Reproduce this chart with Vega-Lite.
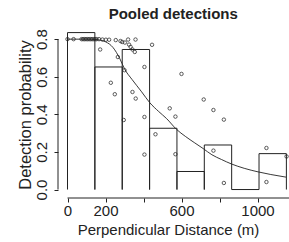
{
  "$schema": "https://vega.github.io/schema/vega-lite/v6.json",
  "autosize": "none",
  "width": 237.5,
  "height": 172,
  "padding": {"left": 58, "top": 26, "right": 0, "bottom": 44},
  "background": "white",
  "config": {
    "view": {"stroke": null},
    "font": "Liberation Sans",
    "axis": {"grid": false, "domain": false, "tickColor": "#222", "labelColor": "#222", "titleColor": "#222", "labelFont": "Liberation Sans", "titleFont": "Liberation Sans", "labelFontSize": 15, "titleFontSize": 15, "titleFontWeight": "normal", "tickSize": 4, "tickWidth": 1}
  },
  "title": {"text": "Pooled detections", "font": "Liberation Sans", "fontSize": 15, "fontWeight": "bold", "color": "#222", "anchor": "middle", "frame": "group", "baseline": "alphabetic", "offset": 6.5, "dx": -3.5, "dy": 14.5},
  "datasets": {
    "bins": [
      {"x": 0, "x2": 144, "y": 0.835},
      {"x": 144, "x2": 288, "y": 0.652},
      {"x": 288, "x2": 432, "y": 0.745},
      {"x": 432, "x2": 576, "y": 0.326},
      {"x": 576, "x2": 720, "y": 0.096},
      {"x": 720, "x2": 864, "y": 0.237},
      {"x": 864, "x2": 1008, "y": 0},
      {"x": 1008, "x2": 1152, "y": 0.191}
    ],
    "curve": [
      {"x": 0, "y": 0.8}, {"x": 100, "y": 0.8}, {"x": 150, "y": 0.798}, {"x": 200, "y": 0.786},
      {"x": 240, "y": 0.755}, {"x": 275, "y": 0.697}, {"x": 300, "y": 0.642}, {"x": 340, "y": 0.585},
      {"x": 390, "y": 0.52}, {"x": 433, "y": 0.462}, {"x": 480, "y": 0.415}, {"x": 521, "y": 0.378},
      {"x": 574, "y": 0.32}, {"x": 620, "y": 0.283}, {"x": 670, "y": 0.248}, {"x": 714, "y": 0.218},
      {"x": 760, "y": 0.185}, {"x": 810, "y": 0.16}, {"x": 863, "y": 0.136}, {"x": 930, "y": 0.113},
      {"x": 1003, "y": 0.094}, {"x": 1070, "y": 0.08}, {"x": 1150, "y": 0.066}
    ],
    "points": [
      {"x": 0, "y": 0.8}, {"x": 32, "y": 0.8}, {"x": 74, "y": 0.8}, {"x": 82, "y": 0.8}, {"x": 90, "y": 0.8},
      {"x": 98, "y": 0.8}, {"x": 106, "y": 0.8}, {"x": 114, "y": 0.8}, {"x": 122, "y": 0.8}, {"x": 130, "y": 0.8},
      {"x": 138, "y": 0.8}, {"x": 146, "y": 0.8}, {"x": 153, "y": 0.8}, {"x": 166, "y": 0.8}, {"x": 184, "y": 0.798},
      {"x": 202, "y": 0.797}, {"x": 219, "y": 0.797}, {"x": 172, "y": 0.745}, {"x": 254, "y": 0.795},
      {"x": 279, "y": 0.79}, {"x": 288, "y": 0.785}, {"x": 302, "y": 0.782}, {"x": 319, "y": 0.798},
      {"x": 324, "y": 0.771}, {"x": 332, "y": 0.759}, {"x": 342, "y": 0.745}, {"x": 354, "y": 0.732},
      {"x": 358, "y": 0.798}, {"x": 445, "y": 0.77}, {"x": 265, "y": 0.705}, {"x": 405, "y": 0.652},
      {"x": 300, "y": 0.635}, {"x": 600, "y": 0.615}, {"x": 228, "y": 0.568}, {"x": 249, "y": 0.507},
      {"x": 342, "y": 0.519}, {"x": 359, "y": 0.484}, {"x": 717, "y": 0.479}, {"x": 768, "y": 0.423},
      {"x": 538, "y": 0.432}, {"x": 568, "y": 0.388}, {"x": 405, "y": 0.386}, {"x": 823, "y": 0.372},
      {"x": 296, "y": 0.37}, {"x": 463, "y": 0.294}, {"x": 405, "y": 0.186}, {"x": 568, "y": 0.188},
      {"x": 768, "y": 0.207}, {"x": 1047, "y": 0.221}, {"x": 1153, "y": 0.176}, {"x": 823, "y": 0.035},
      {"x": 1047, "y": 0.04}
    ]
  },
  "layer": [
    {
      "data": {"name": "points"},
      "mark": {"type": "point", "shape": "circle", "filled": false, "size": 12, "stroke": "#333", "strokeWidth": 0.8, "opacity": 1, "clip": false},
      "encoding": {
        "x": {"field": "x", "type": "quantitative", "scale": {"domain": [-50, 1200], "nice": false, "zero": false},
          "axis": {"title": "Perpendicular Distance (m)", "values": [0, 200, 400, 600, 800, 1000, 1200], "format": "d", "labelExpr": "datum.value == 400 || datum.value == 800 || datum.value == 1200 ? '' : datum.label", "labelBaseline": "alphabetic", "labelPadding": 13.5, "labelFlush": false, "labelOverlap": false, "titleX": 110, "titleY": 36.5, "titleBaseline": "alphabetic", "titleAlign": "center"}},
        "y": {"field": "y", "type": "quantitative", "scale": {"domain": [-0.045, 0.87], "nice": false, "zero": false},
          "axis": {"title": "Detection probability", "values": [0, 0.2, 0.4, 0.6, 0.8], "format": ".1f", "labelAngle": -90, "labelAlign": "center", "labelBaseline": "alphabetic", "labelPadding": 7.3, "labelFlush": false, "labelOverlap": false, "titleAngle": -90, "titleFontSize": 16.5, "titleX": -28, "titleY": 88.5, "titleBaseline": "alphabetic", "titleAlign": "center"}}
      }
    },
    {
      "data": {"name": "bins"},
      "mark": {"type": "rule", "color": "#222", "strokeWidth": 1},
      "encoding": {
        "x": {"field": "x", "type": "quantitative",
          "axis": {"title": "Perpendicular Distance (m)", "values": [0, 200, 400, 600, 800, 1000, 1200], "format": "d", "labelExpr": "datum.value == 400 || datum.value == 800 || datum.value == 1200 ? '' : datum.label", "labelBaseline": "alphabetic", "labelPadding": 13.5, "labelFlush": false, "labelOverlap": false, "titleX": 110, "titleY": 36.5, "titleBaseline": "alphabetic", "titleAlign": "center"}},
        "x2": {"field": "x2"},
        "y": {"field": "y", "type": "quantitative"}
      }
    },
    {
      "data": {"name": "bins"},
      "mark": {"type": "rule", "color": "#222", "strokeWidth": 1},
      "encoding": {
        "x": {"field": "x", "type": "quantitative",
          "axis": {"title": "Perpendicular Distance (m)", "values": [0, 200, 400, 600, 800, 1000, 1200], "format": "d", "labelExpr": "datum.value == 400 || datum.value == 800 || datum.value == 1200 ? '' : datum.label", "labelBaseline": "alphabetic", "labelPadding": 13.5, "labelFlush": false, "labelOverlap": false, "titleX": 110, "titleY": 36.5, "titleBaseline": "alphabetic", "titleAlign": "center"}},
        "y": {"field": "y", "type": "quantitative"},
        "y2": {"datum": 0}
      }
    },
    {
      "data": {"name": "bins"},
      "mark": {"type": "rule", "color": "#222", "strokeWidth": 1},
      "encoding": {
        "x": {"field": "x2", "type": "quantitative",
          "axis": {"title": "Perpendicular Distance (m)", "values": [0, 200, 400, 600, 800, 1000, 1200], "format": "d", "labelExpr": "datum.value == 400 || datum.value == 800 || datum.value == 1200 ? '' : datum.label", "labelBaseline": "alphabetic", "labelPadding": 13.5, "labelFlush": false, "labelOverlap": false, "titleX": 110, "titleY": 36.5, "titleBaseline": "alphabetic", "titleAlign": "center"}},
        "y": {"field": "y", "type": "quantitative"},
        "y2": {"datum": 0}
      }
    },
    {
      "data": {"name": "curve"},
      "mark": {"type": "line", "color": "#222", "strokeWidth": 0.9, "interpolate": "monotone"},
      "encoding": {
        "x": {"field": "x", "type": "quantitative",
          "axis": {"title": "Perpendicular Distance (m)", "values": [0, 200, 400, 600, 800, 1000, 1200], "format": "d", "labelExpr": "datum.value == 400 || datum.value == 800 || datum.value == 1200 ? '' : datum.label", "labelBaseline": "alphabetic", "labelPadding": 13.5, "labelFlush": false, "labelOverlap": false, "titleX": 110, "titleY": 36.5, "titleBaseline": "alphabetic", "titleAlign": "center"}},
        "y": {"field": "y", "type": "quantitative"}
      }
    },
    {
      "data": {"values": [{}]},
      "mark": {"type": "rule", "color": "#222", "strokeWidth": 1, "clip": false},
      "encoding": {
        "x": {"datum": -50, "type": "quantitative",
          "axis": {"title": "Perpendicular Distance (m)", "values": [0, 200, 400, 600, 800, 1000, 1200], "format": "d", "labelExpr": "datum.value == 400 || datum.value == 800 || datum.value == 1200 ? '' : datum.label", "labelBaseline": "alphabetic", "labelPadding": 13.5, "labelFlush": false, "labelOverlap": false, "titleX": 110, "titleY": 36.5, "titleBaseline": "alphabetic", "titleAlign": "center"}},
        "y": {"datum": 0, "type": "quantitative"},
        "y2": {"datum": 0.8}
      }
    },
    {
      "data": {"values": [{}]},
      "mark": {"type": "rule", "color": "#222", "strokeWidth": 1, "clip": false},
      "encoding": {
        "x": {"datum": 0, "type": "quantitative",
          "axis": {"title": "Perpendicular Distance (m)", "values": [0, 200, 400, 600, 800, 1000, 1200], "format": "d", "labelExpr": "datum.value == 400 || datum.value == 800 || datum.value == 1200 ? '' : datum.label", "labelBaseline": "alphabetic", "labelPadding": 13.5, "labelFlush": false, "labelOverlap": false, "titleX": 110, "titleY": 36.5, "titleBaseline": "alphabetic", "titleAlign": "center"}},
        "x2": {"datum": 1200},
        "y": {"datum": -0.045, "type": "quantitative"}
      }
    }
  ]
}
